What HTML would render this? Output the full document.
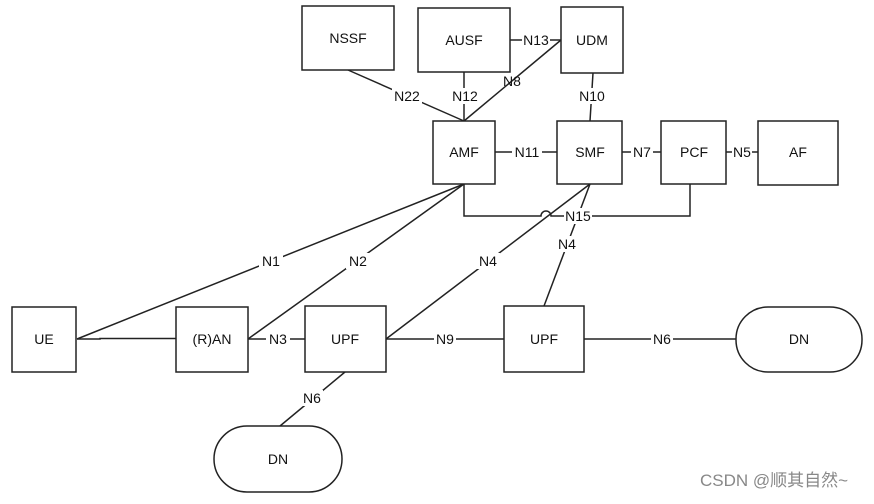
<!DOCTYPE html>
<html><head><style>
body{margin:0;background:#fff;}
svg text{font-family:"Liberation Sans",sans-serif;font-size:14px;fill:#111;}
</style></head><body>
<svg width="874" height="499" viewBox="0 0 874 499" xmlns="http://www.w3.org/2000/svg">
<g stroke="#222" stroke-width="1.5" fill="none">
<line x1="348" y1="70" x2="464" y2="121"/>
<line x1="464" y1="72" x2="464" y2="121"/>
<line x1="561" y1="40" x2="464" y2="121"/>
<line x1="510" y1="40" x2="561" y2="40"/>
<line x1="593" y1="73" x2="590" y2="121"/>
<line x1="495" y1="152" x2="557" y2="152"/>
<line x1="622" y1="152" x2="661" y2="152"/>
<line x1="726" y1="152" x2="758" y2="152"/>
<path d="M464 184 V216 H541 A5 5 0 0 1 551 216 H690 V184"/>
<line x1="77" y1="339" x2="464" y2="184"/>
<line x1="248" y1="339" x2="464" y2="184"/>
<line x1="386" y1="339" x2="590" y2="184"/>
<line x1="544" y1="306" x2="590" y2="184"/>
<path d="M77 339 H100 V338.5 H176"/>
<line x1="248" y1="339" x2="305" y2="339"/>
<line x1="386" y1="339" x2="504" y2="339"/>
<line x1="584" y1="339" x2="736" y2="339"/>
<line x1="345" y1="372" x2="280" y2="426"/>
<rect x="302" y="6" width="92" height="64" fill="#fff"/>
<rect x="418" y="8" width="92" height="64" fill="#fff"/>
<rect x="561" y="7" width="62" height="66" fill="#fff"/>
<rect x="433" y="121" width="62" height="63" fill="#fff"/>
<rect x="557" y="121" width="65" height="63" fill="#fff"/>
<rect x="661" y="121" width="65" height="63" fill="#fff"/>
<rect x="758" y="121" width="80" height="64" fill="#fff"/>
<rect x="12" y="307" width="64" height="65" fill="#fff"/>
<rect x="176" y="307" width="72" height="65" fill="#fff"/>
<rect x="305" y="306" width="81" height="66" fill="#fff"/>
<rect x="504" y="306" width="80" height="66" fill="#fff"/>
<rect x="736" y="307" width="126" height="65" rx="32" fill="#fff"/>
<rect x="214" y="426" width="128" height="66" rx="33" fill="#fff"/>
</g>
<g text-anchor="middle">
<text x="348" y="43">NSSF</text>
<text x="464" y="45">AUSF</text>
<text x="592" y="45">UDM</text>
<text x="464" y="157">AMF</text>
<text x="590" y="157">SMF</text>
<text x="694" y="157">PCF</text>
<text x="798" y="157">AF</text>
<text x="44" y="344">UE</text>
<text x="212" y="344">(R)AN</text>
<text x="345" y="344">UPF</text>
<text x="544" y="344">UPF</text>
<text x="799" y="344">DN</text>
<text x="278" y="464">DN</text>
</g>
<g text-anchor="middle">
<rect x="522" y="32" width="28" height="16" fill="#fff"/><text x="536" y="45">N13</text>
<rect x="392" y="88" width="30" height="16" fill="#fff"/><text x="407" y="101">N22</text>
<rect x="452" y="88" width="26" height="16" fill="#fff"/><text x="465" y="101">N12</text>
<text x="512" y="86">N8</text>
<rect x="578" y="88" width="30" height="16" fill="#fff"/><text x="592" y="101">N10</text>
<rect x="512" y="144" width="30" height="16" fill="#fff"/><text x="527" y="157">N11</text>
<rect x="631" y="144" width="22" height="16" fill="#fff"/><text x="642" y="157">N7</text>
<rect x="732" y="144" width="20" height="16" fill="#fff"/><text x="742" y="157">N5</text>
<rect x="564" y="208" width="28" height="16" fill="#fff"/><text x="578" y="221">N15</text>
<rect x="555" y="236" width="24" height="16" fill="#fff"/><text x="567" y="249">N4</text>
<rect x="259" y="253" width="24" height="16" fill="#fff"/><text x="271" y="266">N1</text>
<rect x="346" y="253" width="24" height="16" fill="#fff"/><text x="358" y="266">N2</text>
<rect x="476" y="253" width="24" height="16" fill="#fff"/><text x="488" y="266">N4</text>
<rect x="266" y="331" width="24" height="16" fill="#fff"/><text x="278" y="344">N3</text>
<rect x="434" y="331" width="22" height="16" fill="#fff"/><text x="445" y="344">N9</text>
<rect x="651" y="331" width="22" height="16" fill="#fff"/><text x="662" y="344">N6</text>
<rect x="301" y="390" width="22" height="16" fill="#fff"/><text x="312" y="403">N6</text>
</g>
<text x="700" y="486" style="font-family:'Liberation Sans','Noto Sans CJK SC',sans-serif;font-size:17px;fill:#888">CSDN @顺其自然~</text>
</svg>
</body></html>
